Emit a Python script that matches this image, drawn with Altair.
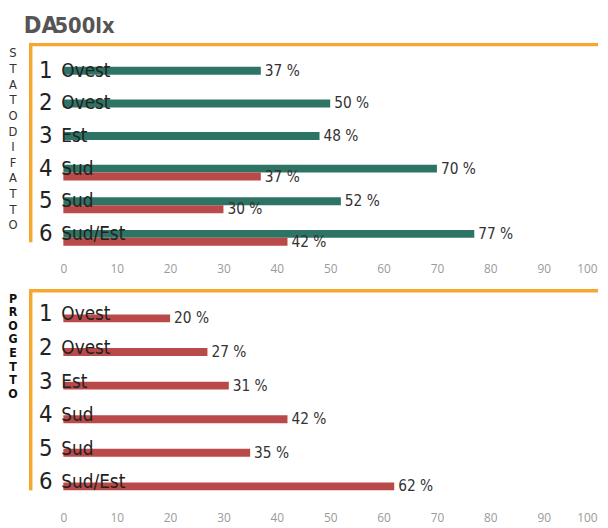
import altair as alt
import pandas as pd

# ---- data ----
rows = ["1", "2", "3", "4", "5", "6"]
names = ["Ovest", "Ovest", "Est", "Sud", "Sud", "Sud/Est"]
stato_green = [37, 50, 48, 70, 52, 77]
stato_red = [None, None, None, 37, 30, 42]
progetto_red = [20, 27, 31, 42, 35, 62]
x_ticks = [0, 10, 20, 30, 40, 50, 60, 70, 80, 90, 100]
title_a = "DA"
title_b = "500lx"
NB = "\u00a0"
label_top = list("STATO") + [NB] + list("DI") + [NB] + list("FATTO")
label_bottom = list("PROGETTO")

GREEN = "#2E7464"
RED = "#BA4A49"
ORANGE = "#F5A82D"
FONT = "Liberation Sans Narrow, DejaVu Sans Condensed, Roboto Condensed, Arial Narrow, sans-serif"
TXT = "#222222"

one = pd.DataFrame({"k": [0]})

df_rows = pd.DataFrame({"row": rows, "name": names})
df_green = pd.DataFrame({"row": rows, "value": stato_green})
df_red_top = pd.DataFrame({"row": rows, "value": stato_red}).dropna()
df_red_bot = pd.DataFrame({"row": rows, "value": progetto_red})

xscale = alt.Scale(domain=[0, 100], nice=False)
xaxis = alt.Axis(values=x_ticks, grid=False, domain=False, ticks=False,
                 labelColor="#9a9a9a", labelFontSize=12, labelFont="Open Sans",
                 labelPadding=10, title=None,
                 labelAlign=alt.condition("datum.value == 100", alt.value("right"), alt.value("center")))
yscale = alt.Scale(domain=rows, paddingInner=0, paddingOuter=0)


def X(field="value:Q"):
    return alt.X(field, scale=xscale, axis=xaxis)


def Y():
    return alt.Y("row:N", scale=yscale, axis=None)


def bars(df, color, off):
    b = alt.Chart(df).mark_bar(color=color, size=8, yOffset=off).encode(x=X(), y=Y())
    t = alt.Chart(df).transform_calculate(lab="datum.value + ' %'").mark_text(
        align="left", baseline="middle", dx=4, yOffset=off, font=FONT, fontSize=15.5, color="#333333"
    ).encode(x=X(), y=Y(), text="lab:N")
    return b + t


def row_labels():
    num = alt.Chart(df_rows).mark_text(align="right", baseline="middle", dy=-4, font=FONT,
                                       fontSize=24, color=TXT).encode(x=alt.value(-11), y=Y(), text="row:N")
    nm = alt.Chart(df_rows).mark_text(align="left", baseline="middle", dy=-4, font=FONT,
                                      fontSize=19, color=TXT).encode(x=alt.value(-2), y=Y(), text="name:N")
    return num + nm


def frame(top, bottom):
    v = alt.Chart(one).mark_rule(color=ORANGE, strokeWidth=3.5).encode(
        x=alt.value(-33), y=alt.value(top - 1.75), y2=alt.value(bottom))
    h = alt.Chart(one).mark_rule(color=ORANGE, strokeWidth=3.5).encode(
        x=alt.value(-34.75), x2=alt.value(541), y=alt.value(top))
    return v + h


letters_top = alt.Chart(one).mark_text(
    align="center", baseline="top", font=FONT, fontSize=13, lineHeight=15.8, color="#333333"
).encode(x=alt.value(-51), y=alt.value(-11), text=alt.value(label_top))

letters_bot = alt.Chart(one).mark_text(
    align="center", baseline="top", font=FONT, fontSize=12.5, fontWeight="bold", lineHeight=13.8, color="#111111"
).encode(x=alt.value(-51), y=alt.value(-9), text=alt.value(label_bottom))

title1 = alt.Chart(one).mark_text(
    align="left", baseline="alphabetic", font=FONT, fontSize=24, fontWeight="bold", color="#555555"
).encode(x=alt.value(-40), y=alt.value(-26), text=alt.value(title_a))
title2 = alt.Chart(one).mark_text(
    align="left", baseline="alphabetic", font=FONT, fontSize=22, fontWeight="bold", color="#555555"
).encode(x=alt.value(-9), y=alt.value(-26), text=alt.value(title_b))

top = alt.layer(
    frame(-14, 186),
    bars(df_green, GREEN, -4),
    bars(df_red_top, RED, 4),
    row_labels(),
    letters_top, title1, title2,
).properties(width=540, height=198)

bottom = alt.layer(
    frame(-11, 191),
    bars(df_red_bot, RED, 0),
    row_labels(),
    letters_bot,
).properties(width=540, height=204)

chart = alt.vconcat(
    top, bottom, spacing=12,
    padding=alt.Padding(top=3, left=0, right=0, bottom=0),
).configure_view(stroke=None)

chart.save("out.html", embed_options={"renderer": "svg", "actions": False})
